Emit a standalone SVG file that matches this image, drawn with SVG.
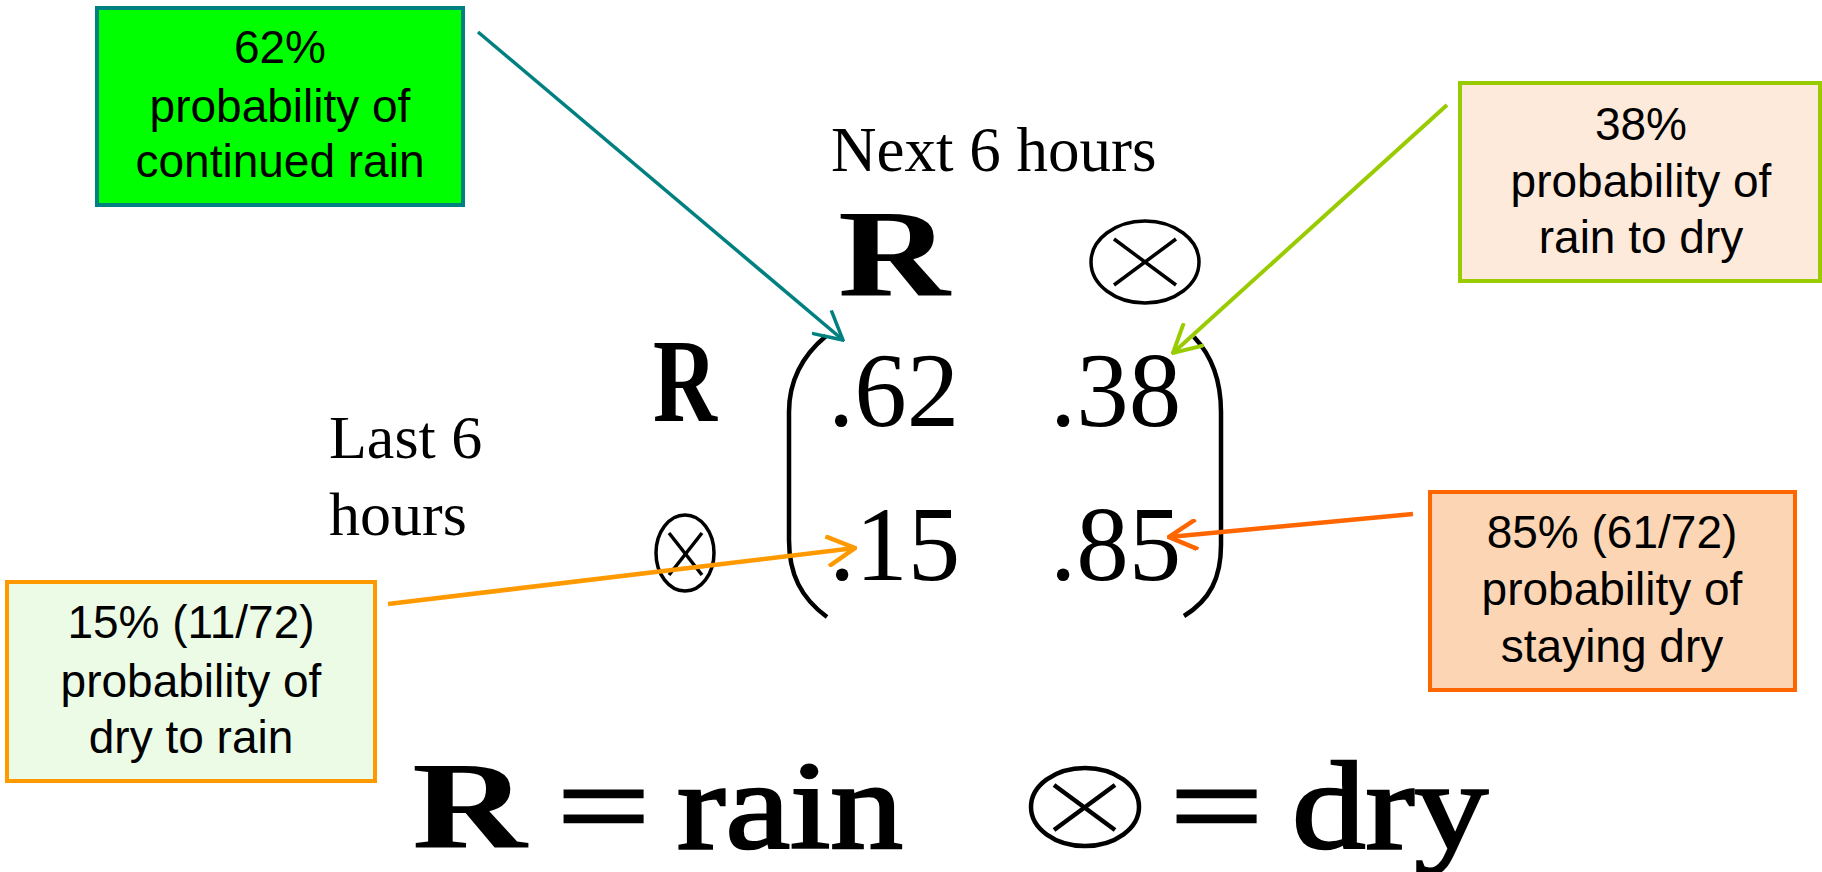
<svg xmlns="http://www.w3.org/2000/svg" width="1822" height="872" viewBox="0 0 1822 872">
<style>
.box text{font-family:"Liberation Sans",Arial,sans-serif;font-size:46px;fill:#000;text-anchor:middle}
.serif{font-family:"Liberation Serif","Times New Roman",serif;fill:#000}
.b{font-weight:bold}
.med{stroke:#000;stroke-width:2.5}
.sym{fill:none;stroke:#000}
.conn line{fill:none}
</style>
<defs>
<marker id="mTeal" viewBox="0 0 32 32" markerWidth="32" markerHeight="32" markerUnits="userSpaceOnUse" refX="30" refY="16" orient="auto"><path d="M2,1 L30,16 L2,31" fill="none" stroke="#008080" stroke-width="3.5"/></marker>
<marker id="mLime" viewBox="0 0 32 32" markerWidth="32" markerHeight="32" markerUnits="userSpaceOnUse" refX="30" refY="16" orient="auto"><path d="M2,1 L30,16 L2,31" fill="none" stroke="#99cc00" stroke-width="4"/></marker>
<marker id="mOrange" viewBox="0 0 32 32" markerWidth="32" markerHeight="32" markerUnits="userSpaceOnUse" refX="30" refY="16" orient="auto"><path d="M2,1 L30,16 L2,31" fill="none" stroke="#ff9900" stroke-width="4.5"/></marker>
<marker id="mRed" viewBox="0 0 32 32" markerWidth="32" markerHeight="32" markerUnits="userSpaceOnUse" refX="30" refY="16" orient="auto"><path d="M2,1 L30,16 L2,31" fill="none" stroke="#ff6600" stroke-width="4.5"/></marker>
</defs>
<rect width="1822" height="872" fill="#fff"/>

<g id="box62" class="box">
<rect x="97" y="8" width="366" height="197" fill="#00ff00" stroke="#008080" stroke-width="4"/>
<text x="280" y="63">62%</text>
<text x="280" y="122">probability of</text>
<text x="280" y="177">continued rain</text>
</g>

<g id="box38" class="box">
<rect x="1460" y="83" width="360" height="198" fill="#fdeada" stroke="#99cc00" stroke-width="4"/>
<text x="1641" y="140">38%</text>
<text x="1641" y="197">probability of</text>
<text x="1641" y="253">rain to dry</text>
</g>

<g id="box15" class="box">
<rect x="7" y="582" width="368" height="199" fill="#ebfbe6" stroke="#ff9900" stroke-width="4"/>
<text x="191" y="638">15% (11/72)</text>
<text x="191" y="697">probability of</text>
<text x="191" y="753">dry to rain</text>
</g>

<g id="box85" class="box">
<rect x="1430" y="492" width="365" height="198" fill="#fcd6b4" stroke="#ff6600" stroke-width="4"/>
<text x="1612" y="548">85% (61/72)</text>
<text x="1612" y="605">probability of</text>
<text x="1612" y="662">staying dry</text>
</g>

<g id="labels">
<text class="serif" x="831" y="171" font-size="63">Next 6 hours</text>
<text class="serif" x="329" y="458" font-size="62">Last 6</text>
<text class="serif" x="329" y="535" font-size="62">hours</text>
</g>

<g id="matrix">
<text class="serif b" x="838" y="296" font-size="125" textLength="112" lengthAdjust="spacingAndGlyphs">R</text>
<g class="sym" stroke-width="3.5">
<ellipse cx="1145" cy="262" rx="54" ry="41"/>
<line x1="1114" y1="239" x2="1176" y2="285"/>
<line x1="1114" y1="285" x2="1176" y2="239"/>
</g>
<text class="serif b" x="653" y="421" font-size="118" textLength="64" lengthAdjust="spacingAndGlyphs">R</text>
<g class="sym" stroke-width="3.5">
<ellipse cx="685" cy="553" rx="29" ry="38"/>
<line x1="669" y1="533" x2="702" y2="575"/>
<line x1="702" y1="533" x2="669" y2="575"/>
</g>
<path class="sym" stroke-width="4.5" d="M826,336 C802,356 789,382 789,412 L789,540 C789,574 801,598 827,617"/>
<path class="sym" stroke-width="4.5" d="M1194,337 C1212,356 1221,382 1221,412 L1221,545 C1221,578 1210,600 1184,616"/>
<text class="serif" x="828" y="426" font-size="105">.62</text>
<text class="serif" x="1050" y="426" font-size="105">.38</text>
<text class="serif" x="829" y="580" font-size="105">.15</text>
<text class="serif" x="1050" y="580" font-size="105">.85</text>
</g>

<g id="legend">
<text class="serif b" x="412" y="848" font-size="124" textLength="115" lengthAdjust="spacingAndGlyphs">R</text>
<text class="serif med" x="557" y="848" font-size="124" textLength="93" lengthAdjust="spacingAndGlyphs">=</text>
<text class="serif med" x="677" y="848" font-size="124" textLength="226" lengthAdjust="spacingAndGlyphs">rain</text>
<g class="sym" stroke-width="4.5">
<ellipse cx="1085" cy="807" rx="54" ry="39"/>
<line x1="1054" y1="785" x2="1115" y2="830"/>
<line x1="1054" y1="830" x2="1115" y2="785"/>
</g>
<text class="serif med" x="1170" y="848" font-size="124" textLength="93" lengthAdjust="spacingAndGlyphs">=</text>
<text class="serif med" x="1292" y="848" font-size="124" textLength="196" lengthAdjust="spacingAndGlyphs">dry</text>
</g>

<g id="connectors" class="conn">
<line x1="478" y1="32" x2="843" y2="340" stroke="#008080" stroke-width="3.5" marker-end="url(#mTeal)"/>
<line x1="1447" y1="105" x2="1173" y2="353" stroke="#99cc00" stroke-width="4" marker-end="url(#mLime)"/>
<line x1="388" y1="604" x2="855" y2="548" stroke="#ff9900" stroke-width="4.5" marker-end="url(#mOrange)"/>
<line x1="1413" y1="514" x2="1169" y2="537" stroke="#ff6600" stroke-width="4.5" marker-end="url(#mRed)"/>
</g>
</svg>
